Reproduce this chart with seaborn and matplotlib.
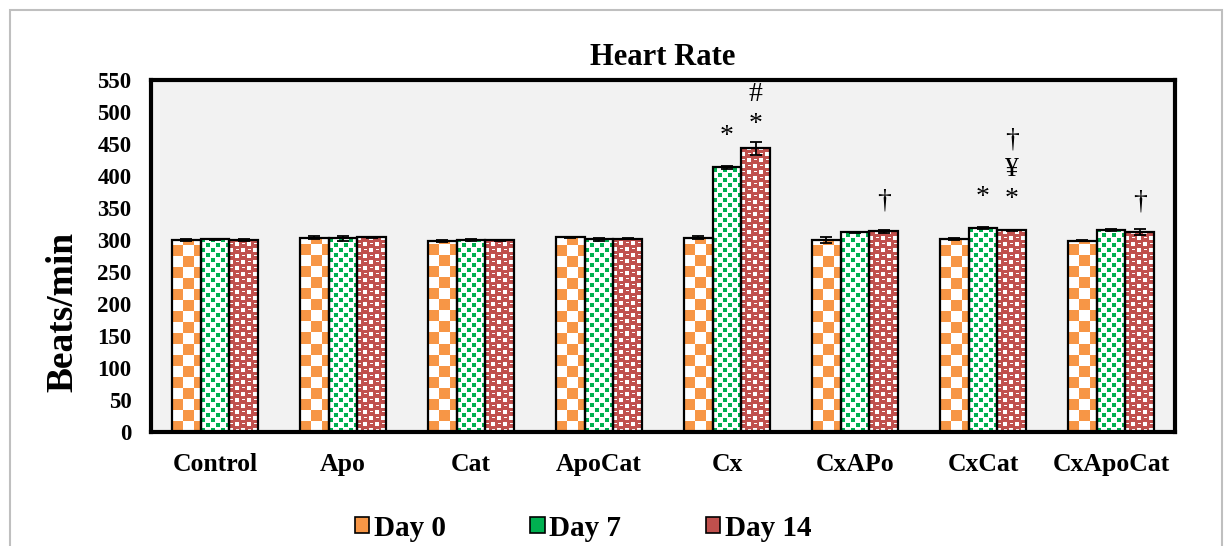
import numpy as np
import pandas as pd
import matplotlib
matplotlib.use("Agg")
import matplotlib.pyplot as plt
import seaborn as sns
from matplotlib.patches import Patch, Rectangle

# Heart rate data (Beats/min)
groups = ["Control", "Apo", "Cat", "ApoCat", "Cx", "CxAPo", "CxCat", "CxApoCat"]
days = ["Day 0", "Day 7", "Day 14"]
day0 = [300, 303.5, 298.5, 304, 303.5, 300, 301, 299]
day7 = [301, 302.5, 300, 301, 413.5, 312, 318.5, 315]
day14 = [299.5, 304, 299.5, 302, 443, 313.5, 315, 312]
err0 = [1, 2.5, 1.5, 1, 2.5, 4.5, 1.5, 1]
err7 = [1, 4.5, 1, 2.5, 2, 1, 1.5, 1.5]
err14 = [1.5, 1, 1, 1, 9.5, 2.5, 1, 4.5]

# significance marks, listed bottom to top
marks = [("Cx", "Day 7", ["*"]),
         ("Cx", "Day 14", ["*", "#"]),
         ("CxAPo", "Day 14", ["\u2020"]),
         ("CxCat", "Day 7", ["*"]),
         ("CxCat", "Day 14", ["*", "\u00a5", "\u2020"]),
         ("CxApoCat", "Day 14", ["\u2020"])]

colors = ["#F79646", "#00B050", "#C0504D"]

sns.set_style("white")
plt.rcParams["font.family"] = ["Liberation Serif", "DejaVu Serif"]
plt.rcParams["text.color"] = "black"
plt.rcParams["axes.labelcolor"] = "black"
plt.rcParams["xtick.color"] = "black"
plt.rcParams["ytick.color"] = "black"


def to_rgb(c):
    return np.array(matplotlib.colors.to_rgb(c))


# pixel textures that mimic the Excel pattern fills
def make_texture(kind, h, w):
    r, c = np.mgrid[0:h, 0:w]
    r = h - 1 - r  # start pattern from the bar base
    img = np.ones((h, w, 3))
    if kind == 0:
        mask = ((r // 11) + (c // 11)) % 2 == 0
        img[mask] = to_rgb(colors[0])
    elif kind == 1:
        rr, cc = r % 10, c % 10
        m1 = (rr < 4) & (cc < 4)
        m2 = (rr >= 5) & (rr < 9) & (cc >= 5) & (cc < 9)
        img[m1 | m2] = to_rgb(colors[1])
    else:
        img[:] = to_rgb(colors[2])
        rr, cc = r % 12, c % 12
        white = ((rr < 4) & (cc < 4)) | ((rr >= 6) & (rr < 10) & (cc >= 6) & (cc < 10))
        img[white] = 1.0
        dash = (rr == 8) & (cc >= 1) & (cc < 4)
        img[dash] = 1.0
        dash2 = (rr == 2) & (cc >= 7) & (cc < 10)
        img[dash2] = 1.0
    return img


df = pd.DataFrame({
    "group": groups * 3,
    "day": [d for d in days for _ in groups],
    "value": day0 + day7 + day14,
})
errs = [err0, err7, err14]

fig, ax = plt.subplots(figsize=(12.3, 5.46), dpi=100)
fig.subplots_adjust(left=151 / 1230, right=1175 / 1230, top=1 - 80 / 546, bottom=1 - 432 / 546)

sns.barplot(data=df, x="group", y="value", hue="day", order=groups, hue_order=days,
            palette=colors, saturation=1, width=0.67, errorbar=None,
            edgecolor="black", linewidth=1.6, legend=False, ax=ax)

ax.set_xlim(-0.5, 7.5)
ax.set_ylim(0, 550)
ax.set_facecolor("#f2f2f2")

# texture fill clipped to every bar
for k, cont in enumerate(ax.containers):
    for p in cont:
        bb = p.get_window_extent()
        h = max(int(round(bb.height)), 1)
        w = max(int(round(bb.width)), 1)
        tex = make_texture(k, h, w)
        x0 = p.get_x()
        im = ax.imshow(tex, extent=(x0, x0 + p.get_width(), p.get_y(), p.get_y() + p.get_height()),
                       aspect="auto", interpolation="nearest", zorder=0.9)
        im.set_clip_path(p)
        p.set_facecolor("none")
        p.set_zorder(1)

ax.set_xlim(-0.5, 7.5)
ax.set_ylim(0, 550)

# error bars
for cont, err in zip(ax.containers, errs):
    xs = [p.get_x() + p.get_width() / 2 for p in cont]
    ys = [p.get_height() for p in cont]
    ax.errorbar(xs, ys, yerr=err, fmt="none", ecolor="black", elinewidth=1.3,
                capsize=4.5, capthick=1.3, zorder=3)

# significance marks above bars (stack pushed down if it would hit the top)
step = 47
for grp, day, labels in marks:
    p = ax.containers[days.index(day)][groups.index(grp)]
    xc = p.get_x() + p.get_width() / 2
    base = p.get_height() + 48
    top = base + step * (len(labels) - 1)
    if top > 528:
        base -= top - 528
    for i, s in enumerate(labels):
        ax.text(xc, base + step * i, s, ha="center", va="center",
                fontsize=20, color="black")

ax.set_title("Heart Rate", fontsize=22, fontweight="bold", pad=11)
ax.set_xlabel("")
ax.set_ylabel("Beats/min", fontsize=27, fontweight="bold")
ax.yaxis.set_label_coords(-0.069, 0.34)

ax.set_yticks(np.arange(0, 551, 50))
ax.tick_params(axis="y", length=0, pad=14, labelsize=16.5)
for t in ax.get_yticklabels():
    t.set_fontweight("bold")
ax.tick_params(axis="x", which="major", length=0, pad=15, labelsize=18.5)
for t in ax.get_xticklabels():
    t.set_fontweight("bold")
ax.set_xticks(np.arange(-0.5, 8, 1), minor=True)
ax.tick_params(axis="x", which="minor", length=6, width=1.3, direction="out", color="black")

for s in ax.spines.values():
    s.set_visible(True)
    s.set_color("black")
    s.set_linewidth(3)

handles = [Patch(facecolor=c, edgecolor="black", linewidth=1.2) for c in colors]
fig.legend(handles, days, loc="center", bbox_to_anchor=(583 / 1230, 1 - 528 / 546),
           ncol=3, frameon=False, prop={"weight": "bold", "size": 21},
           handlelength=0.5, handleheight=0.5, handletextpad=0.15, columnspacing=2.9)

# light grey frame around the whole chart
fig.patches.append(Rectangle((10 / 1230, -0.05), 1212 / 1230, 1.05 - 10 / 546,
                             transform=fig.transFigure, fill=False,
                             edgecolor="#bfbfbf", linewidth=1.5))

fig.savefig("out.png", dpi=100)
